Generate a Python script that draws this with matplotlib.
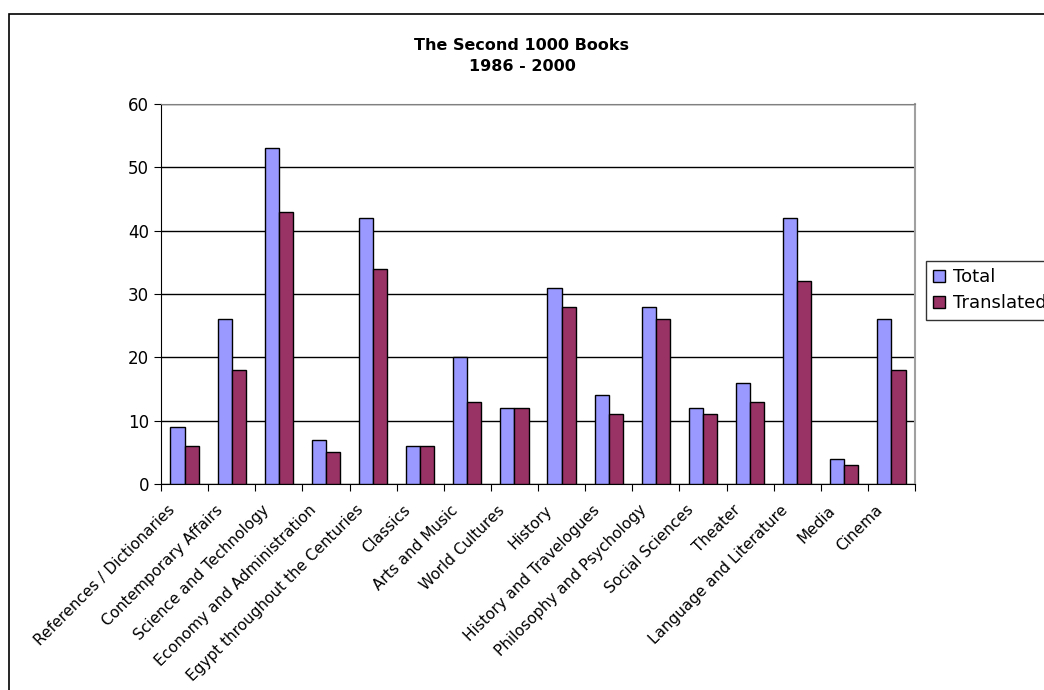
import numpy as np
import matplotlib.pyplot as plt
import matplotlib.transforms as mtransforms
from matplotlib.patches import Rectangle

categories = ["References / Dictionaries", "Contemporary Affairs", "Science and Technology",
              "Economy and Administration", "Egypt throughout the Centuries", "Classics",
              "Arts and Music", "World Cultures", "History", "History and Travelogues",
              "Philosophy and Psychology", "Social Sciences", "Theater",
              "Language and Literature", "Media", "Cinema"]
total = [9, 26, 53, 7, 42, 6, 20, 12, 31, 14, 28, 12, 16, 42, 4, 26]
translated = [6, 18, 43, 5, 34, 6, 13, 12, 28, 11, 26, 11, 13, 32, 3, 18]

plt.rcParams['font.family'] = 'DejaVu Sans'

fig = plt.figure(figsize=(10.44, 6.9), dpi=100)
ax = fig.add_axes([161/1044, 1-484/690, 754/1044, 380/690])

# outer chart border
fig.patches.append(Rectangle((9/1044, -0.01), 1.1, 1-14/690+0.01, transform=fig.transFigure,
                             fill=False, edgecolor='black', linewidth=1.2))

x = np.arange(len(categories))
w = 0.3
ax.bar(x - w/2, total, w, color='#9999FF', edgecolor='black', linewidth=1, label='Total', zorder=3)
ax.bar(x + w/2, translated, w, color='#993366', edgecolor='black', linewidth=1, label='Translated', zorder=3)

ax.set_xlim(-0.5, len(categories) - 0.5)
ax.set_ylim(0, 60)
ax.set_yticks(range(0, 61, 10))
ax.yaxis.grid(True, color='black', linewidth=1, zorder=0)
ax.tick_params(axis='y', labelsize=12, length=5, direction='out')

ax.set_xticks(np.arange(-0.5, len(categories), 1))
ax.set_xticklabels([])
ax.set_xticks(x, minor=True)
ax.set_xticklabels(categories, minor=True, rotation=45, ha='right', rotation_mode='anchor', fontsize=11)
ax.tick_params(axis='x', which='major', length=5, direction='out')
ax.tick_params(axis='x', which='minor', length=0, pad=9)
shift = mtransforms.ScaledTranslation(-0.17, -0.06, fig.dpi_scale_trans)
for lbl in ax.get_xticklabels(minor=True):
    lbl.set_transform(lbl.get_transform() + shift)

ax.spines['top'].set_color('#808080')
ax.spines['right'].set_color('#a0a0a0')
ax.spines['right'].set_linewidth(1.5)
ax.spines['left'].set_color('black')
ax.spines['bottom'].set_color('black')

fig.text(522/1044, 1-56/690, "The Second 1000 Books\n1986 - 2000", ha='center', va='center',
         fontsize=11.5, fontweight='bold', linespacing=1.5)

leg = fig.legend(loc='upper left', bbox_to_anchor=(926/1044, 1-261/690), fontsize=13,
                 frameon=True, fancybox=False, edgecolor='black', borderpad=0.4, borderaxespad=0,
                 handlelength=0.65, handleheight=0.65, handletextpad=0.45, labelspacing=0.45)
leg.get_frame().set_linewidth(1)

fig.savefig('out.png', dpi=100)
